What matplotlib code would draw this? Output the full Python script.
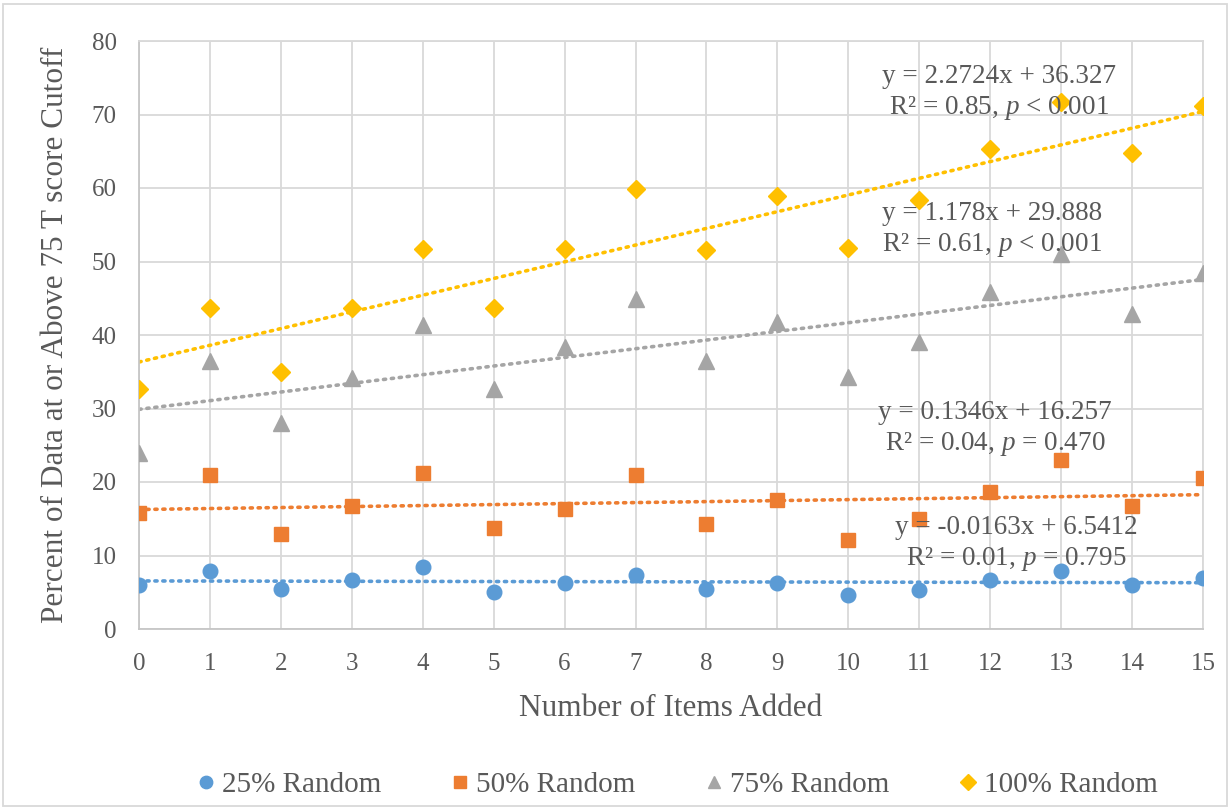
import numpy as np
import matplotlib.pyplot as plt
from matplotlib.patches import Rectangle

# data
items = list(range(16))
pct25 = [6.0, 7.9, 5.5, 6.7, 8.5, 5.0, 6.2, 7.4, 5.5, 6.3, 4.6, 5.3, 6.6, 7.9, 6.0, 7.0]
pct50 = [15.8, 20.9, 12.9, 16.7, 21.2, 13.7, 16.3, 21.0, 14.3, 17.6, 12.1, 15.0, 18.7, 23.0, 16.7, 20.5]
pct75 = [24.0, 36.5, 28.0, 34.2, 41.4, 32.6, 38.4, 44.9, 36.5, 41.8, 34.3, 39.1, 45.8, 51.0, 42.9, 48.5]
pct100 = [32.7, 43.7, 34.9, 43.7, 51.7, 43.7, 51.7, 59.8, 51.6, 58.9, 51.8, 58.4, 65.3, 71.7, 64.8, 71.2]

labels = ['25% Random', '50% Random', '75% Random', '100% Random']
slopes = [-0.0163, 0.1346, 1.178, 2.2724]
intercepts = [6.5412, 16.257, 29.888, 36.327]
eq_text = ['y = -0.0163x + 6.5412', 'y = 0.1346x + 16.257',
           'y = 1.178x + 29.888', 'y = 2.2724x + 36.327']
r2_text = [r'R² = 0.01, $\it{p}$ = 0.795', r'R² = 0.04, $\it{p}$ = 0.470',
           r'R² = 0.61, $\it{p}$ < 0.001', r'R² = 0.85, $\it{p}$ < 0.001']

colors = ['#5B9BD5', '#ED7D31', '#A5A5A5', '#FFC000']
markers = ['o', 's', '^', 'D']
msizes = [10.5, 10, 11, 9]
txt = '#595959'

plt.rcParams['font.family'] = ['Liberation Serif', 'DejaVu Serif']
plt.rcParams['mathtext.fontset'] = 'custom'
plt.rcParams['mathtext.it'] = 'Liberation Serif:italic'
plt.rcParams['mathtext.rm'] = 'Liberation Serif'

fig = plt.figure(figsize=(12.31, 8.09), dpi=100)
ax = fig.add_axes([139/1231, 1 - 629/809, (1203-139)/1231, (629-41)/809])

series = [pct25, pct50, pct75, pct100]
x = np.array(items)
for s, c, m, ms, lab, a, b in zip(series, colors, markers, msizes, labels, slopes, intercepts):
    ax.plot(x, s, linestyle='None', marker=m, color=c, markersize=ms, label=lab, zorder=3)
    ax.plot(x, a * x + b, color=c, linestyle=(0, (0.6, 1.6)), linewidth=2.6,
            dash_capstyle='round', zorder=2)

ax.set_xlim(0, 15)
ax.set_ylim(0, 80)
ax.set_xticks(items)
ax.set_yticks(range(0, 81, 10))
ax.grid(True, color='#D9D9D9', linewidth=1.3)
ax.set_axisbelow(True)
for sp in ax.spines.values():
    sp.set_color('#D9D9D9')
    sp.set_linewidth(1.3)
ax.spines['bottom'].set_color('#C6C6C6')
ax.spines['left'].set_color('#C6C6C6')
ax.tick_params(length=0, labelsize=18, labelcolor=txt)
ax.tick_params(axis='x', pad=17)
ax.tick_params(axis='y', pad=16)
ax.set_xlabel('Number of Items Added', fontsize=22.5, color=txt, labelpad=14)
ax.set_ylabel('Percent of Data at or Above 75 T score Cutoff', fontsize=22.5, color=txt, labelpad=16)

# trendline labels
eq_pos = [(12.37, 11.5), (12.07, 27.2), (12.03, 54.3), (12.12, 72.9)]
for (ex, ey), e, r in zip(eq_pos, eq_text, r2_text):
    ax.text(ex, ey, e + '\n' + r, ha='center', va='center', fontsize=19.5,
            color=txt, linespacing=1.25, zorder=4)

fig.legend(loc='center', bbox_to_anchor=(675/1231, 1 - 785/809), ncol=4, frameon=False,
           fontsize=21, labelcolor=txt, columnspacing=2.2, handletextpad=0.05,
           handlelength=1.0, markerscale=0.85)

fig.patches.append(Rectangle((3/1231, 3/809), 1 - 7/1231, 1 - 7/809,
                             transform=fig.transFigure, fill=False,
                             edgecolor='#D9D9D9', linewidth=1.3))

fig.savefig('out.png', dpi=100)
